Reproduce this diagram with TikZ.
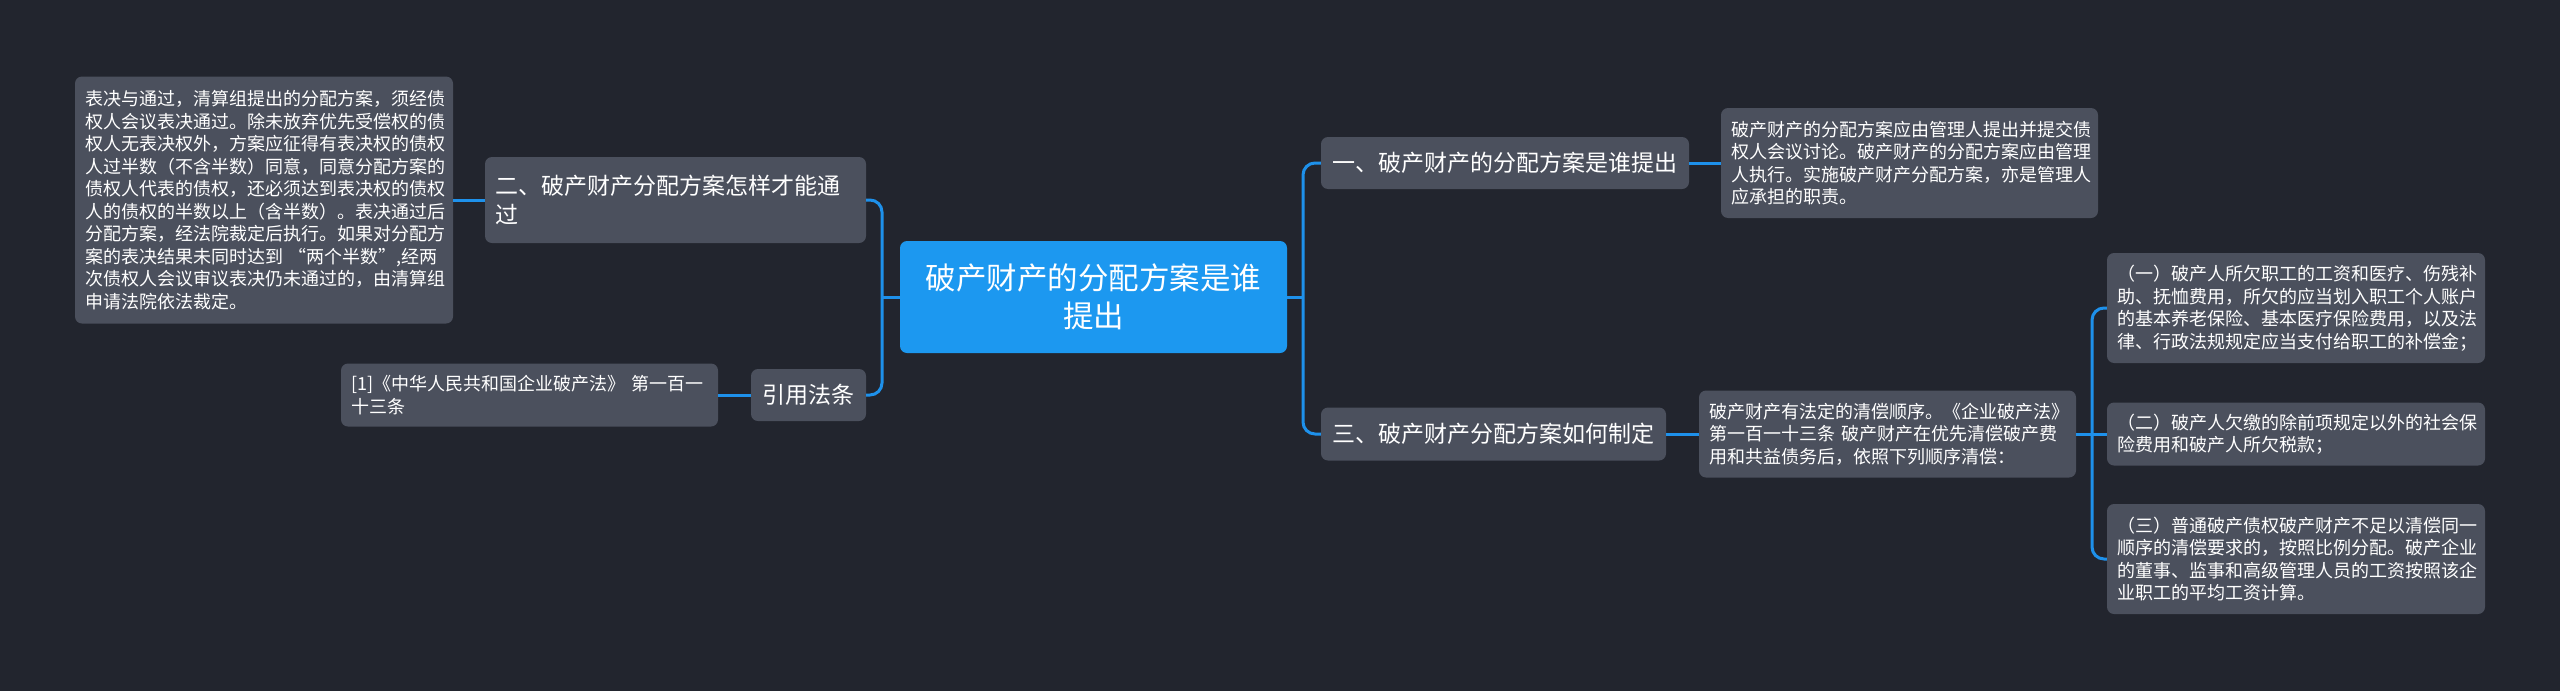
\documentclass[tikz,border=0pt]{standalone}
\usepackage{fontspec}
\setmainfont{Noto Sans CJK SC}
\definecolor{bgc}{RGB}{34,37,46}
\definecolor{nodegray}{RGB}{75,80,93}
\definecolor{rootblue}{RGB}{28,152,240}
\definecolor{linkblue}{RGB}{30,145,235}
\tikzset{
  box/.style={fill=nodegray, rounded corners=7pt, inner xsep=10pt, inner ysep=0pt, align=left, text=white},
  smalltxt/.style={box, font=\fontsize{18}{22.5}\selectfont},
  midtxt/.style={box, font=\fontsize{23}{29}\selectfont},
  rootbox/.style={fill=rootblue, rounded corners=7pt, inner xsep=10pt, inner ysep=0pt, align=center, text=white, font=\fontsize{30.5}{38}\selectfont},
  conn/.style={draw=linkblue, line width=3pt, rounded corners=12pt}
}
\begin{document}
\begin{tikzpicture}[x=1pt,y=-1pt]
\fill[bgc] (0,0) rectangle (2560,691);
\useasboundingbox (0,0) rectangle (2560,691);

% root
\node[rootbox, text width=367pt, minimum height=112pt] (root) at (1093.5,297) {破产财产的分配方案是谁\\提出};

% left side
\node[midtxt, text width=361pt, minimum height=86pt] (n2) at (675.5,200) {二、破产财产分配方案怎样才能通\\过};
\node[smalltxt, text width=358pt, minimum height=247pt] (lt) at (264,200) {表决与通过，清算组提出的分配方案，须经债\\权人会议表决通过。除未放弃优先受偿权的债\\权人无表决权外，方案应征得有表决权的债权\\人过半数（不含半数）同意，同意分配方案的\\债权人代表的债权，还必须达到表决权的债权\\人的债权的半数以上（含半数）。表决通过后\\分配方案，经法院裁定后执行。如果对分配方\\案的表决结果未同时达到~“两个半数”,经两\\次债权人会议审议表决仍未通过的，由清算组\\申请法院依法裁定。};
\node[midtxt, align=center, text width=95pt, minimum height=52pt] (yy) at (808.5,395) {引用法条};
\node[smalltxt, text width=357pt, minimum height=63pt] (ref) at (529.5,395) {[1]《中华人民共和国企业破产法》~第一百一\\十三条};

% right side
\node[midtxt, align=center, text width=348pt, minimum height=52pt] (n1) at (1505,163) {一、破产财产的分配方案是谁提出};
\node[smalltxt, text width=357pt, minimum height=110pt] (tr) at (1909.5,163) {破产财产的分配方案应由管理人提出并提交债\\权人会议讨论。破产财产的分配方案应由管理\\人执行。实施破产财产分配方案，亦是管理人\\应承担的职责。};
\node[midtxt, align=center, text width=325pt, minimum height=53pt] (n3) at (1493.5,434) {三、破产财产分配方案如何制定};
\node[smalltxt, text width=357pt, minimum height=87pt] (law) at (1887.5,434) {破产财产有法定的清偿顺序。《企业破产法》\\第一百一十三条~破产财产在优先清偿破产费\\用和共益债务后，依照下列顺序清偿：};
\node[smalltxt, text width=358pt, minimum height=110pt] (c1) at (2296,308) {（一）破产人所欠职工的工资和医疗、伤残补\\助、抚恤费用，所欠的应当划入职工个人账户\\的基本养老保险、基本医疗保险费用，以及法\\律、行政法规规定应当支付给职工的补偿金；};
\node[smalltxt, text width=358pt, minimum height=63pt] (c2) at (2296,434) {（二）破产人欠缴的除前项规定以外的社会保\\险费用和破产人所欠税款；};
\node[smalltxt, text width=358pt, minimum height=110pt] (c3) at (2296,559) {（三）普通破产债权破产财产不足以清偿同一\\顺序的清偿要求的，按照比例分配。破产企业\\的董事、监事和高级管理人员的工资按照该企\\业职工的平均工资计算。};

% trunk coordinates
\coordinate (tl) at (882,297);
\coordinate (trr) at (1303,297);
\coordinate (tlaw) at (2092,434);

% connectors
\draw[conn] (root.west) -- (tl);
\draw[conn] (n2.east) -| (tl) |- (yy.east);
\draw[conn] (n2.west) -- (lt.east);
\draw[conn] (yy.west) -- (ref.east);

\draw[conn] (root.east) -- (trr);
\draw[conn] (n1.west) -| (trr) |- (n3.west);
\draw[conn] (n1.east) -- (tr.west);
\draw[conn] (n3.east) -- (law.west);

\draw[conn] (law.east) -- (c2.west);
\draw[conn] (c1.west) -| (tlaw) |- (c3.west);
\end{tikzpicture}
\end{document}
